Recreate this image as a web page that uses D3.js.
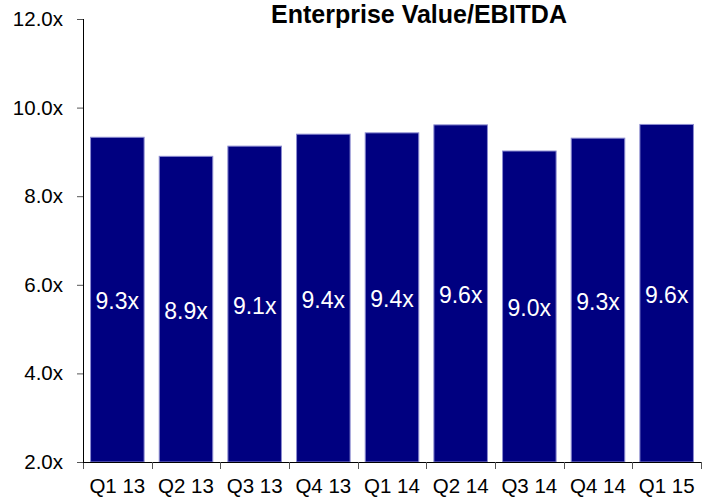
<!DOCTYPE html>
<html><head><meta charset="utf-8">
<script src="https://cdn.jsdelivr.net/npm/d3@7"></script>
<style>
html,body{margin:0;padding:0;background:#fff;}
svg{display:block;}
text{font-family:"Liberation Sans",Arial,sans-serif;}
</style></head>
<body>
<script>
const categories = ["Q1 13","Q2 13","Q3 13","Q4 13","Q1 14","Q2 14","Q3 14","Q4 14","Q1 15"];
const values = [9.33, 8.90, 9.13, 9.40, 9.43, 9.61, 9.02, 9.31, 9.62];
const valueLabels = ["9.3x","8.9x","9.1x","9.4x","9.4x","9.6x","9.0x","9.3x","9.6x"];
const yTicks = [2, 4, 6, 8, 10, 12];
const title = "Enterprise Value/EBITDA";

const W = 712, H = 499;
const mLeft = 83, mRight = 701, mTop = 19, mBottom = 462;

const svg = d3.select("body").append("svg").attr("width", W).attr("height", H);

const x = d3.scaleBand().domain(categories).range([mLeft, mRight]).paddingInner(0.22).paddingOuter(0.11);
const y = d3.scaleLinear().domain([2, 12]).range([mBottom, mTop]);

// bars
svg.selectAll("rect.bar").data(values).join("rect")
  .attr("class", "bar")
  .attr("x", (d, i) => x(categories[i]))
  .attr("width", x.bandwidth())
  .attr("y", d => y(d))
  .attr("height", d => y(2) - y(d))
  .attr("fill", "#000080")
  .attr("stroke", "#8c8cd0")
  .attr("stroke-width", 1);

// bar labels
svg.selectAll("text.vl").data(values).join("text")
  .attr("class", "vl")
  .attr("x", (d, i) => x(categories[i]) + x.bandwidth() / 2)
  .attr("y", d => (y(d) + y(2)) / 2 + 9.5)
  .attr("text-anchor", "middle")
  .attr("fill", "#fff")
  .attr("font-size", "23px")
  .text((d, i) => valueLabels[i]);

// y axis
const yAxis = d3.axisLeft(y).tickValues(yTicks).tickFormat(d => d3.format(".1f")(d) + "x").tickSize(6).tickSizeOuter(0).tickPadding(14);
const gy = svg.append("g").attr("transform", `translate(${mLeft},0)`).call(yAxis);
gy.select(".domain").attr("stroke", "#000");
gy.selectAll(".tick line").attr("stroke", "#555");
gy.selectAll(".tick text").attr("font-size", "20.5px").attr("fill", "#000").attr("font-family", "Liberation Sans, Arial, sans-serif");

// x axis: line + ticks at band boundaries
const xb = d3.scaleLinear().domain([0, categories.length]).range([mLeft, mRight]);
const gx = svg.append("g");
gx.append("line").attr("x1", mLeft).attr("x2", mRight).attr("y1", mBottom + 0.5).attr("y2", mBottom + 0.5).attr("stroke", "#000");
gx.selectAll("line.xt").data(d3.range(categories.length + 1)).join("line")
  .attr("class", "xt")
  .attr("x1", d => Math.round(xb(d)) + 0.5).attr("x2", d => Math.round(xb(d)) + 0.5)
  .attr("y1", mBottom).attr("y2", mBottom + 7)
  .attr("stroke", "#555");
gx.selectAll("text.xl").data(categories).join("text")
  .attr("class", "xl")
  .attr("x", d => x(d) + x.bandwidth() / 2)
  .attr("y", 493)
  .attr("text-anchor", "middle")
  .attr("font-size", "20.5px")
  .attr("fill", "#000")
  .text(d => d);

// y axis line on top
svg.append("line").attr("x1", mLeft + 0.5).attr("x2", mLeft + 0.5).attr("y1", mTop).attr("y2", mBottom + 1).attr("stroke", "#000");

// title
svg.append("text")
  .attr("x", 419).attr("y", 23)
  .attr("text-anchor", "middle")
  .attr("font-size", "25px")
  .attr("font-weight", "bold")
  .attr("fill", "#000")
  .text(title);
</script>
</body></html>
